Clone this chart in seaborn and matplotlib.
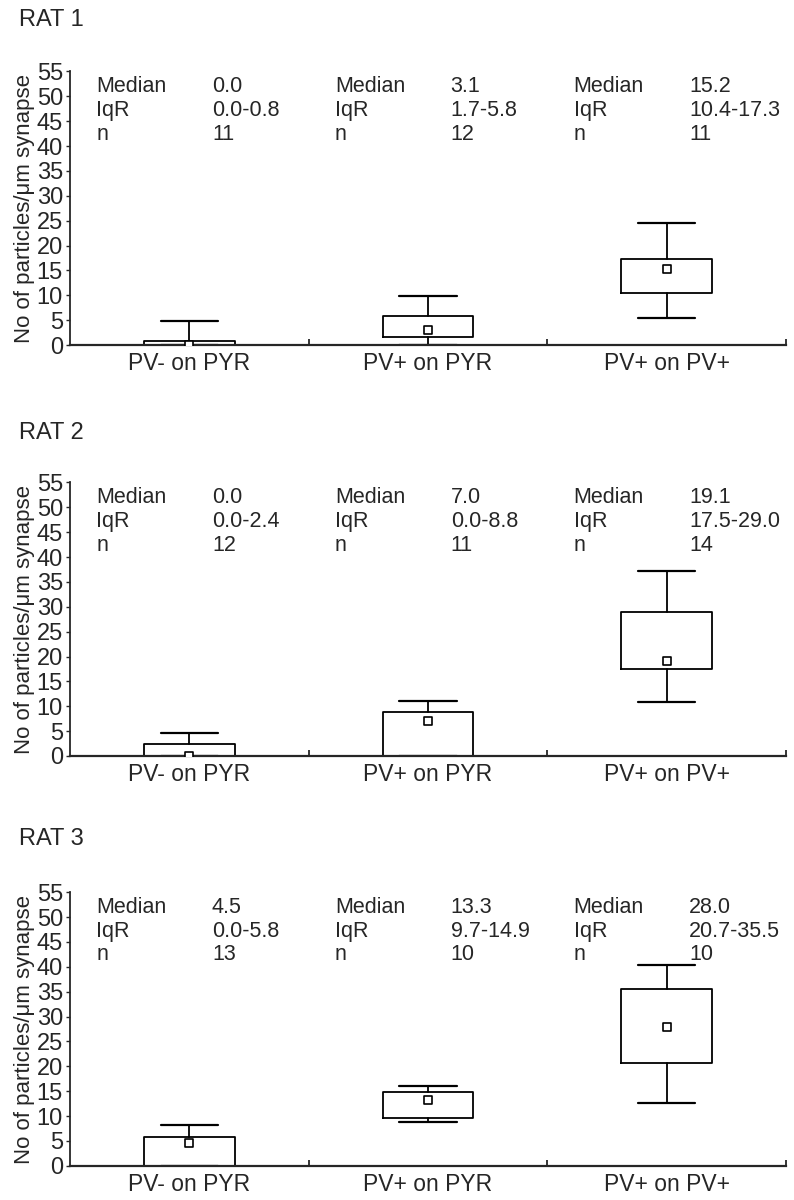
import seaborn as sns
import matplotlib.pyplot as plt
import numpy as np

sns.set_style("ticks")
plt.rcParams["font.family"] = ["Liberation Sans", "DejaVu Sans"]
plt.rcParams["font.size"] = 16

groups = ["PV- on PYR", "PV+ on PYR", "PV+ on PV+"]
rats = ["RAT 1", "RAT 2", "RAT 3"]

# medians, interquartile ranges, whisker ends, n (one list per rat)
medians = [[0.0, 3.1, 15.2], [0.0, 7.0, 19.1], [4.5, 13.3, 28.0]]
q1 = [[0.0, 1.7, 10.4], [0.0, 0.0, 17.5], [0.0, 9.7, 20.7]]
q3 = [[0.8, 5.8, 17.3], [2.4, 8.8, 29.0], [5.8, 14.9, 35.5]]
wlo = [[0.0, 0.0, 5.4], [0.0, 0.0, 10.8], [0.0, 8.8, 12.6]]
whi = [[4.9, 9.8, 24.6], [4.7, 11.0, 37.1], [8.3, 16.0, 40.3]]
ns = [[11, 12, 11], [12, 11, 14], [13, 10, 10]]
iqr_txt = [["0.0-0.8", "1.7-5.8", "10.4-17.3"],
           ["0.0-2.4", "0.0-8.8", "17.5-29.0"],
           ["0.0-5.8", "9.7-14.9", "20.7-35.5"]]

fig = plt.figure(figsize=(7.94, 12), dpi=100)
bottoms = [0.7125, 0.370, 0.0285]
title_y = [0.983, 0.639, 0.301]
pos = np.arange(3)

for r in range(3):
    ax = fig.add_axes([0.088, bottoms[r], 0.902, 0.228])
    stats = []
    for i in range(3):
        stats.append(dict(med=medians[r][i], q1=q1[r][i], q3=q3[r][i],
                          whislo=wlo[r][i], whishi=whi[r][i], fliers=[]))
    ax.bxp(stats, positions=pos, widths=0.38, capwidths=0.24, showfliers=False,
           boxprops=dict(color="black", linewidth=1.3),
           whiskerprops=dict(color="black", linewidth=1.3),
           capprops=dict(color="black", linewidth=1.6),
           medianprops=dict(linewidth=0), manage_ticks=False)
    sns.scatterplot(x=pos, y=medians[r], marker="s", s=30, color="white",
                    edgecolor="black", linewidth=1.2, zorder=5, ax=ax)

    for i in range(3):
        ax.text(i - 0.39, 51.9, "Median", fontsize=15.5, va="center")
        ax.text(i + 0.095, 51.9, f"{medians[r][i]:.1f}", fontsize=15.5, va="center")
        ax.text(i - 0.39, 47.1, "IqR", fontsize=15.5, va="center")
        ax.text(i + 0.095, 47.1, iqr_txt[r][i], fontsize=15.5, va="center")
        ax.text(i - 0.39, 42.4, "n", fontsize=15.5, va="center")
        ax.text(i + 0.095, 42.4, str(ns[r][i]), fontsize=15.5, va="center")

    ax.set_xlim(-0.5, 2.5)
    ax.set_ylim(0, 55)
    ax.set_yticks(np.arange(0, 56, 5))
    ax.set_xticks(pos)
    ax.set_xticklabels(groups, fontsize=16.5)
    ax.set_xticks([0.5, 1.5, 2.5], minor=True)
    ax.tick_params(axis="x", which="major", length=0, pad=5)
    ax.tick_params(axis="x", which="minor", direction="in", length=4, width=1.3)
    ax.tick_params(axis="y", length=3, width=1.0, pad=2, labelsize=17)
    ax.set_ylabel("No of particles/\u03bcm synapse", fontsize=16, labelpad=1)
    for s in ["top", "right"]:
        ax.spines[s].set_visible(False)
    ax.spines["left"].set_linewidth(1.3)
    ax.spines["bottom"].set_linewidth(1.6)
    fig.text(0.024, title_y[r], rats[r], fontsize=17, va="center")

fig.savefig("out.png", dpi=100)
